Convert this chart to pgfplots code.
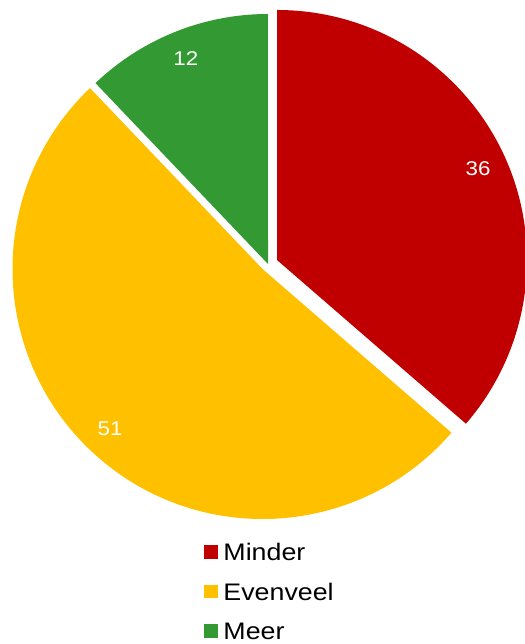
\documentclass[border=0pt]{standalone}
\usepackage{fontspec}
\setmainfont{Liberation Sans}[FakeStretch=1.12]
\usepackage{pgfplots}
\usepackage{pgfplotstable}
\pgfplotsset{compat=1.18}
\definecolor{cred}{HTML}{C00000}
\definecolor{cyellow}{HTML}{FFC000}
\definecolor{cgreen}{HTML}{339933}
% slice values and (exploded) slice centres in picture units
\pgfplotstableread{
label value cx cy
Minder 36 277 384
Evenveel 51 262.5 375
Meer 12 268 380
}\piedata
\begin{document}
\begin{tikzpicture}
\pgfplotstablegetelem{0}{value}\of\piedata\let\va\pgfplotsretval
\pgfplotstablegetelem{1}{value}\of\piedata\let\vb\pgfplotsretval
\pgfplotstablegetelem{2}{value}\of\piedata\let\vc\pgfplotsretval
\pgfplotstablegetelem{0}{cx}\of\piedata\let\xA\pgfplotsretval
\pgfplotstablegetelem{0}{cy}\of\piedata\let\yA\pgfplotsretval
\pgfplotstablegetelem{1}{cx}\of\piedata\let\xB\pgfplotsretval
\pgfplotstablegetelem{1}{cy}\of\piedata\let\yB\pgfplotsretval
\pgfplotstablegetelem{2}{cx}\of\piedata\let\xC\pgfplotsretval
\pgfplotstablegetelem{2}{cy}\of\piedata\let\yC\pgfplotsretval
\pgfmathsetmacro\tot{\va+\vb+\vc}
\pgfmathsetmacro\aA{90}
\pgfmathsetmacro\aB{\aA-\va/\tot*360}
\pgfmathsetmacro\aC{\aB-\vb/\tot*360}
\pgfmathsetmacro\aD{\aC-\vc/\tot*360}
\pgfmathsetmacro\mA{(\aA+\aB)/2}
\pgfmathsetmacro\mB{(\aB+\aC)/2}
\pgfmathsetmacro\mC{(\aC+\aD)/2}
\begin{axis}[
  hide axis, scale only axis,
  width=525bp, height=644bp,
  xmin=0, xmax=525, ymin=0, ymax=644,
  clip=true,
  legend image code/.code={\fill[#1] (0bp,-6.75bp) rectangle (13.5bp,6.75bp); \path (17.5bp,0bp);},
  legend cell align=left,
  legend style={at={(0.38857,0.1615)}, anchor=north west, draw=none, fill=none,
    inner sep=0pt, outer sep=0pt, row sep=14.8bp,
    font=\fontsize{24}{28}\selectfont,
    cells={inner sep=0pt}},
]
\addlegendimage{fill=cred, draw=none}
\addlegendimage{fill=cyellow, draw=none}
\addlegendimage{fill=cgreen, draw=none}
\legend{\rule[-5bp]{0pt}{24bp}Minder,\rule[-5bp]{0pt}{24bp}Evenveel,\rule[-3bp]{0pt}{22bp}Meer}
\fill[cred] (axis cs:\xA,\yA) -- ++(\aA:250bp) arc[start angle=\aA, end angle=\aB, radius=250bp] -- cycle;
\fill[cyellow] (axis cs:\xB,\yB) -- ++(\aB:250bp) arc[start angle=\aB, end angle=\aC, radius=250bp] -- cycle;
\fill[cgreen] (axis cs:\xC,\yC) -- ++(\aC:250bp) arc[start angle=\aC, end angle=\aD, radius=250bp] -- cycle;
\path (axis cs:\xA,\yA) ++(\mA:221bp) node[text=white, font=\fontsize{20}{24}\selectfont] {\va};
\path (axis cs:\xB,\yB) ++(\mB:221bp) node[text=white, font=\fontsize{20}{24}\selectfont] {\vb};
\path (axis cs:\xC,\yC) ++(\mC:221bp) node[text=white, font=\fontsize{20}{24}\selectfont] {\vc};
\end{axis}
\pgfresetboundingbox
\path[use as bounding box] (current axis.south west) rectangle (current axis.north east);
\end{tikzpicture}
\end{document}
